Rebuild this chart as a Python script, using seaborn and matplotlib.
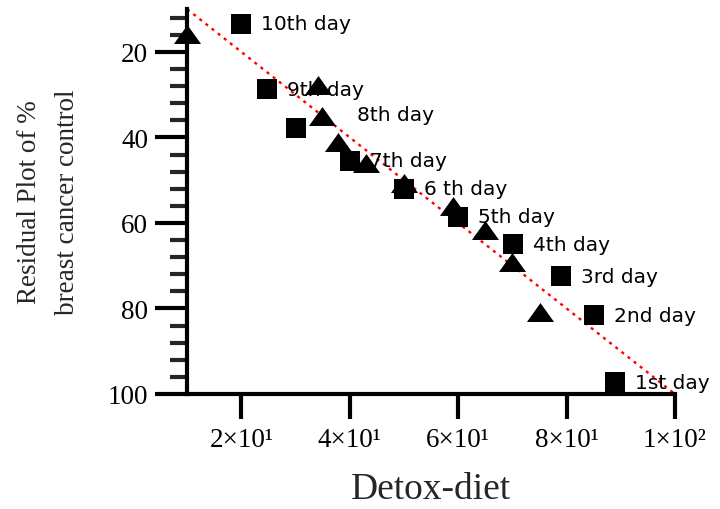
import numpy as np
import pandas as pd
import seaborn as sns
import matplotlib.pyplot as plt
from matplotlib.ticker import FixedLocator

# day labels go with the square markers, day 10 first
days = ['10th day', '9th day', '8th day', '7th day', '6 th day',
        '5th day', '4th day', '3rd day', '2nd day', '1st day']
square_x = [20, 24.8, 30, 40, 50, 60, 70.2, 79, 85, 89]
square_y = [13.4, 28.7, 37.9, 45.4, 52, 58.6, 65, 72.5, 81.6, 97.2]

triangle_x = [10, 34.1, 34.8, 37.8, 43, 50, 59, 65, 70, 75]
triangle_y = [15.8, 27.8, 35, 41, 46, 50.6, 56, 61.7, 69.2, 80.9]

fit_x = [10, 100]
fit_y = [10, 100]

x_ticks = [20, 40, 60, 80, 100]
x_tick_labels = ['2×10¹', '4×10¹', '6×10¹', '8×10¹', '1×10²']
y_ticks = [20, 40, 60, 80, 100]

sns.set_style('ticks')
plt.rcParams['font.family'] = ['Liberation Serif', 'DejaVu Serif']

squares = pd.DataFrame({'x': square_x, 'y': square_y, 'day': days})
triangles = pd.DataFrame({'x': triangle_x, 'y': triangle_y})

fig = plt.figure(figsize=(7.2, 5.1), dpi=100)
ax = fig.add_axes([0.26, 0.2255, 0.6775, 0.7545])

tri = [(0, 0.7), (-1, -0.7), (1, -0.7)]
sns.lineplot(x=fit_x, y=fit_y, ax=ax, color='red', linestyle=(0, (1.3, 2.0)),
             linewidth=1.7, zorder=1)
sns.scatterplot(data=triangles, x='x', y='y', ax=ax, marker=tri, s=380,
                color='black', linewidth=0, zorder=3, clip_on=False)
sns.scatterplot(data=squares, x='x', y='y', ax=ax, marker='s', s=200,
                color='black', linewidth=0, zorder=4, clip_on=False)

for i, row in squares.iterrows():
    off = (44, 10) if row['day'] == '8th day' else (14.4, 0)
    ax.annotate(row['day'], (row['x'], row['y']), xytext=off,
                textcoords='offset points', va='center', ha='left',
                fontsize=14.5, family='DejaVu Sans', color='black', zorder=5)

ax.set_xlim(10, 100)
ax.set_ylim(100, 10)
ax.set_xticks(x_ticks)
ax.set_xticklabels(x_tick_labels)
ax.set_yticks(y_ticks)
ax.yaxis.set_minor_locator(FixedLocator([v for v in range(12, 100, 4) if v % 20 != 0]))

for s in ['top', 'right']:
    ax.spines[s].set_visible(False)
for s in ['left', 'bottom']:
    ax.spines[s].set_linewidth(3)
    ax.spines[s].set_color('black')

ax.tick_params(axis='x', length=18, width=3, labelsize=19.5, pad=6, colors='black')
ax.tick_params(axis='y', which='major', length=23, width=3, labelsize=19.5, pad=5, colors='black')
ax.tick_params(axis='y', which='minor', length=12, width=3)

ax.set_xlabel('Detox-diet', fontsize=27, labelpad=14)
ax.set_ylabel('Residual Plot of %\nbreast cancer control', fontsize=19.5,
              labelpad=20, linespacing=1.7)
ax.legend_ = None

fig.savefig('out.png', dpi=100)
